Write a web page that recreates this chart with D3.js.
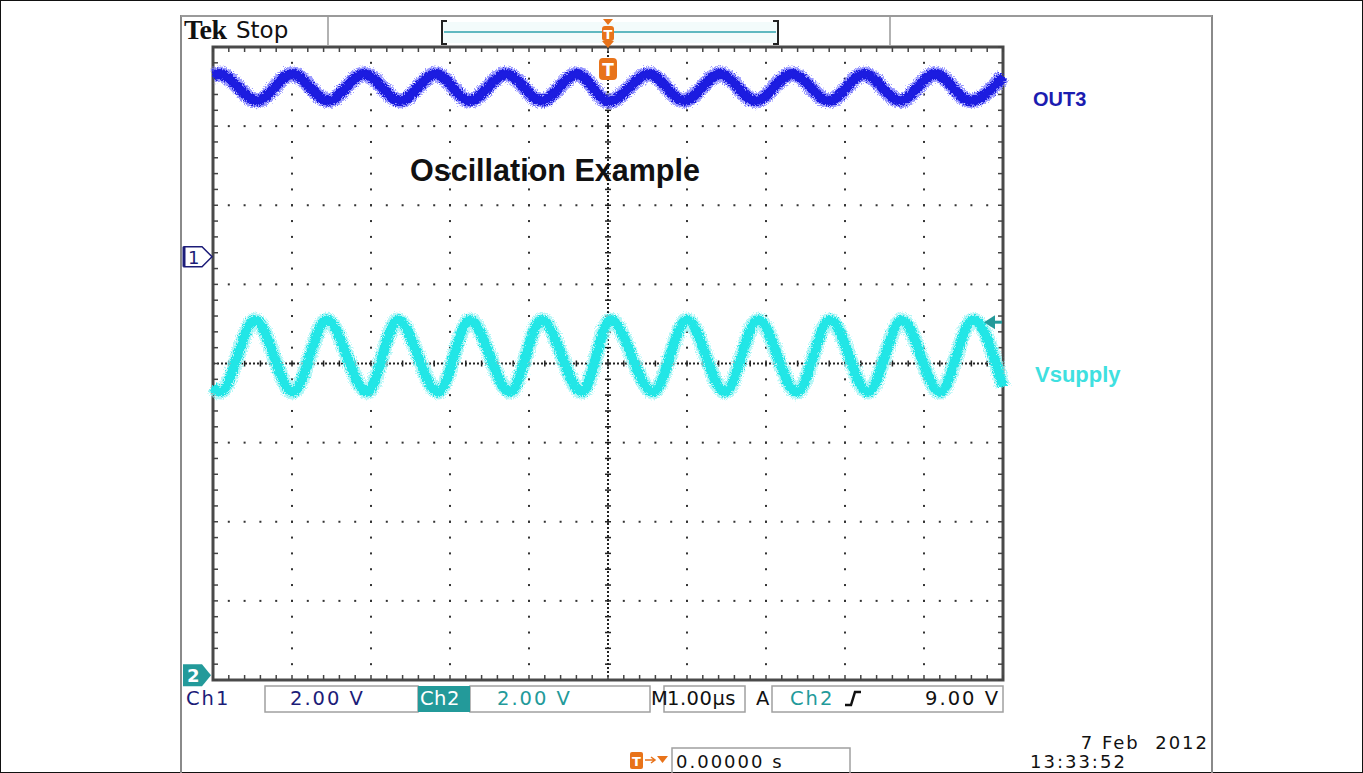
<!DOCTYPE html>
<html>
<head>
<meta charset="utf-8">
<script src="https://cdn.jsdelivr.net/npm/d3@7"></script>
<style>
  body { margin: 0; background: #fff; }
  svg { display: block; }
  .stat { font-family: "DejaVu Sans", sans-serif; font-size: 19.5px; letter-spacing: 2px; }
  .stamp { font-family: "DejaVu Sans", sans-serif; font-size: 18px; letter-spacing: 2px; }
</style>
</head>
<body>
<script>
// scope settings
var timePerDiv = 1.00;      // us
var ch1VoltsPerDiv = 2.00;
var ch2VoltsPerDiv = 2.00;
var ch1Position = 1.35;     // divisions above centre
var ch2Position = -3.94;
var triggerLevel = 9.00;    // V on Ch2

// OUT3 (Ch1) - extrema picked from the trace, time in us, volts
var out3Time  = [-5.00, -4.92, -4.44, -4.00, -3.54, -3.09, -2.63, -2.18, -1.75, -1.29, -0.84, -0.39,
                  0.01,  0.52,  0.96,  1.42,  1.87,  2.33,  2.80,  3.24,  3.70,  4.14,  4.59,  5.00];
var out3Volts = [ 4.58,  4.62,  3.94,  4.62,  3.94,  4.62,  3.94,  4.62,  3.94,  4.62,  3.94,  4.62,
                  3.92,  4.62,  3.94,  4.62,  3.94,  4.62,  3.94,  4.62,  3.94,  4.62,  3.94,  4.56];

// Vsupply (Ch2)
var vsupTime  = [-5.00, -4.91, -4.47, -3.99, -3.56, -3.05, -2.66, -2.15, -1.75, -1.24, -0.84, -0.33,
                  0.03,  0.57,  1.00,  1.48,  1.90,  2.39,  2.81,  3.29,  3.72,  4.20,  4.62,  5.00];
var vsupVolts = [ 7.30,  7.16,  8.98,  7.16,  8.98,  7.16,  8.98,  7.16,  8.98,  7.16,  8.98,  7.16,
                  8.98,  7.16,  8.98,  7.16,  8.98,  7.16,  8.98,  7.16,  8.98,  7.16,  8.98,  7.30];

var W = 1363, H = 773;
var svg = d3.select("body").append("svg").attr("width", W).attr("height", H);

// fuzz filter for the noisy traces
var defs = svg.append("defs");
var f = defs.append("filter").attr("id", "fuzz").attr("x", "-5%").attr("y", "-50%").attr("width", "110%").attr("height", "200%");
f.append("feTurbulence").attr("type", "fractalNoise").attr("baseFrequency", "0.9").attr("numOctaves", 2).attr("seed", 3).attr("result", "n");
f.append("feDisplacementMap").attr("in", "SourceGraphic").attr("in2", "n").attr("scale", 7).attr("xChannelSelector", "R").attr("yChannelSelector", "G");

// outer frame
svg.append("rect").attr("x", 0.5).attr("y", 0.5).attr("width", W - 1).attr("height", H - 1)
   .attr("fill", "#fff").attr("stroke", "#111");
svg.append("line").attr("x1", 181).attr("x2", 181).attr("y1", 15).attr("y2", H).attr("stroke", "#8a8a8a").attr("stroke-width", 2);
svg.append("line").attr("x1", 1212).attr("x2", 1212).attr("y1", 15).attr("y2", H).attr("stroke", "#8a8a8a").attr("stroke-width", 2);
svg.append("line").attr("x1", 181).attr("x2", 1212).attr("y1", 16).attr("y2", 16).attr("stroke", "#9a9a9a").attr("stroke-width", 2);

// scales
var x = d3.scaleLinear().domain([-5 * timePerDiv, 5 * timePerDiv]).range([213, 1003]);
var y = d3.scaleLinear().domain([-4, 4]).range([680, 47]);
var xDiv = d3.scaleLinear().domain([-5, 5]).range([213, 1003]);

var g = svg.append("g");

// graticule dots
var minorX = d3.range(-5, 5.001, 0.2), minorY = d3.range(-4, 4.001, 0.2);
var majorX = d3.range(-4, 4.5, 1).filter(function(d){ return d !== 0; });
var majorY = d3.range(-3, 3.5, 1).filter(function(d){ return d !== 0; });
majorX.forEach(function(mx){
  g.selectAll(null).data(minorY).enter().append("rect")
    .attr("x", xDiv(mx) - 1).attr("y", function(d){ return y(d) - 1; })
    .attr("width", 2).attr("height", 2).attr("fill", "#333");
});
majorY.forEach(function(my){
  g.selectAll(null).data(minorX).enter().append("rect")
    .attr("x", function(d){ return xDiv(d) - 1; }).attr("y", y(my) - 1)
    .attr("width", 2).attr("height", 2).attr("fill", "#333");
});

// centre cross lines with minor ticks
g.append("line").attr("x1", xDiv(0)).attr("x2", xDiv(0)).attr("y1", y(4)).attr("y2", y(-4))
  .attr("stroke", "#222").attr("stroke-width", 2).attr("stroke-dasharray", "2,2");
g.append("line").attr("x1", xDiv(-5)).attr("x2", xDiv(5)).attr("y1", y(0)).attr("y2", y(0))
  .attr("stroke", "#222").attr("stroke-width", 2).attr("stroke-dasharray", "2,2");
g.selectAll(null).data(minorY).enter().append("line")
  .attr("x1", xDiv(0) - 3).attr("x2", xDiv(0) + 3).attr("y1", function(d){ return y(d); }).attr("y2", function(d){ return y(d); })
  .attr("stroke", "#222").attr("stroke-width", 1.5);
g.selectAll(null).data(minorX).enter().append("line")
  .attr("y1", y(0) - 3).attr("y2", y(0) + 3).attr("x1", function(d){ return xDiv(d); }).attr("x2", function(d){ return xDiv(d); })
  .attr("stroke", "#222").attr("stroke-width", 1.5);

// border with ticks
g.append("rect").attr("x", 213).attr("y", 47).attr("width", 790).attr("height", 633)
  .attr("fill", "none").attr("stroke", "#4a4a4a").attr("stroke-width", 3);
[[y(4), 1], [y(-4), -1]].forEach(function(b){
  g.selectAll(null).data(minorX).enter().append("line")
    .attr("x1", function(d){ return xDiv(d); }).attr("x2", function(d){ return xDiv(d); })
    .attr("y1", b[0]).attr("y2", b[0] + b[1] * 5).attr("stroke", "#444").attr("stroke-width", 1.5);
});
[[213, 1], [1003, -1]].forEach(function(b){
  g.selectAll(null).data(minorY).enter().append("line")
    .attr("y1", function(d){ return y(d); }).attr("y2", function(d){ return y(d); })
    .attr("x1", b[0]).attr("x2", b[0] + b[1] * 5).attr("stroke", "#444").attr("stroke-width", 1.5);
});

// traces
function trace(times, volts, vdiv, pos, core, halo){
  var pts = times.map(function(t, i){ return [x(t), y(volts[i] / vdiv + pos)]; });
  var line = d3.line().curve(d3.curveMonotoneX);
  var tg = svg.append("g");
  tg.append("path").attr("d", line(pts)).attr("fill", "none").attr("stroke", halo)
    .attr("stroke-width", 15).attr("opacity", 0.75).attr("filter", "url(#fuzz)");
  tg.append("path").attr("d", line(pts)).attr("fill", "none").attr("stroke", core)
    .attr("stroke-width", 10).attr("filter", "url(#fuzz)");
  tg.append("path").attr("d", line(pts)).attr("fill", "none").attr("stroke", core)
    .attr("stroke-width", 6);
}
trace(out3Time, out3Volts, ch1VoltsPerDiv, ch1Position, "#1c1ce0", "#7a7aff");
trace(vsupTime, vsupVolts, ch2VoltsPerDiv, ch2Position, "#22e6e6", "#9af4f4");

// labels on the screen
svg.append("text").attr("x", 410).attr("y", 181).text("Oscillation Example")
  .attr("font-family", "Liberation Sans, Arial, sans-serif").attr("font-weight", "bold").attr("font-size", 30.5).attr("fill", "#111");
svg.append("text").attr("x", 1033).attr("y", 106).text("OUT3")
  .attr("font-family", "Liberation Sans, Arial, sans-serif").attr("font-weight", "bold").attr("font-size", 20).attr("fill", "#1c1cb0");
svg.append("text").attr("x", 1035).attr("y", 382).text("Vsupply")
  .attr("font-family", "Liberation Sans, Arial, sans-serif").attr("font-weight", "bold").attr("font-size", 22).attr("fill", "#3fe0e0");

// channel ground markers
var navy = "#1c1c78", teal = "#239a9a", orange = "#e8731a";
var m1 = y(ch1Position), m2 = y(ch2Position);
svg.append("path").attr("d", "M184," + (m1 - 10) + "H202L212," + m1 + "L202," + (m1 + 10) + "H184Z")
  .attr("fill", "#fff").attr("stroke", navy).attr("stroke-width", 1.5);
svg.append("line").attr("x1", 184).attr("x2", 184).attr("y1", m1 - 10).attr("y2", m1 + 10).attr("stroke", navy).attr("stroke-width", 3);
svg.append("text").attr("x", 188).attr("y", m1 + 7).text("1").attr("font-family", "DejaVu Sans").attr("font-size", 18).attr("fill", navy);
svg.append("path").attr("d", "M183," + (m2 - 11) + "H202L211," + m2 + "L202," + (m2 + 11) + "H183Z").attr("fill", teal);
svg.append("text").attr("x", 187).attr("y", m2 + 7).text("2").attr("font-family", "DejaVu Sans").attr("font-weight", "bold").attr("font-size", 18).attr("fill", "#fff");

// trigger level arrow (right edge)
var ty = y(triggerLevel / ch2VoltsPerDiv + ch2Position) + 3;
svg.append("path").attr("d", "M984," + ty + "L995," + (ty - 7) + "V" + (ty + 7) + "Z").attr("fill", teal);
svg.append("line").attr("x1", 994).attr("x2", 1002).attr("y1", ty).attr("y2", ty).attr("stroke", teal).attr("stroke-width", 3);

// header
svg.append("text").attr("x", 184).attr("y", 39).text("Tek").attr("font-family", "Liberation Serif, serif")
  .attr("font-weight", "bold").attr("font-size", 28).attr("letter-spacing", -0.5).attr("fill", "#111");
svg.append("text").attr("x", 236).attr("y", 38).text("Stop").attr("font-family", "DejaVu Sans")
  .attr("font-size", 23).attr("fill", "#111");
svg.append("line").attr("x1", 328).attr("x2", 328).attr("y1", 16).attr("y2", 45).attr("stroke", "#999").attr("stroke-width", 1.5);
svg.append("line").attr("x1", 890).attr("x2", 890).attr("y1", 16).attr("y2", 45).attr("stroke", "#999").attr("stroke-width", 1.5);
svg.append("rect").attr("x", 443).attr("y", 22).attr("width", 335).attr("height", 21).attr("fill", "#f3fbfb");
svg.append("path").attr("d", "M447,21H442V44H447M773,21H778V44H773").attr("fill", "none").attr("stroke", "#222").attr("stroke-width", 2);
svg.append("line").attr("x1", 444).attr("x2", 776).attr("y1", 32).attr("y2", 32).attr("stroke", "#5fb8c0").attr("stroke-width", 2);

// trigger position marker
var tx = x(0);
svg.append("path").attr("d", "M" + (tx - 5) + ",19H" + (tx + 5) + "L" + tx + ",25Z").attr("fill", orange);
svg.append("rect").attr("x", tx - 6).attr("y", 26).attr("width", 12).attr("height", 15).attr("rx", 3).attr("fill", orange);
svg.append("text").attr("x", tx).attr("y", 39).attr("text-anchor", "middle").text("T")
  .attr("font-family", "DejaVu Sans").attr("font-weight", "bold").attr("font-size", 13).attr("fill", "#fff");
svg.append("path").attr("d", "M" + (tx - 6) + ",41H" + (tx + 6) + "L" + tx + ",48Z").attr("fill", orange);
svg.append("rect").attr("x", tx - 9).attr("y", 58).attr("width", 18).attr("height", 22).attr("rx", 4).attr("fill", orange);
svg.append("text").attr("x", tx).attr("y", 76).attr("text-anchor", "middle").text("T")
  .attr("font-family", "DejaVu Sans").attr("font-weight", "bold").attr("font-size", 17).attr("fill", "#fff");

// status bar
var sb = svg.append("g").attr("class", "stat");
function box(x0, x1, y0, y1){
  sb.append("rect").attr("x", x0).attr("y", y0).attr("width", x1 - x0).attr("height", y1 - y0)
    .attr("fill", "none").attr("stroke", "#a0a0a0").attr("stroke-width", 1.5);
}
box(265, 418, 686, 712);
box(470, 650, 686, 712);
box(664, 745, 686, 712);
box(772, 1003, 686, 712);
sb.append("rect").attr("x", 418).attr("y", 686).attr("width", 52).attr("height", 26).attr("fill", teal);
function stxt(xp, t, c, anchor){
  return sb.append("text").attr("x", xp).attr("y", 705).text(t).attr("fill", c).attr("text-anchor", anchor || "start");
}
stxt(186, "Ch1", navy);
stxt(290, ch1VoltsPerDiv.toFixed(2) + " V", navy);
stxt(420, "Ch2", "#fff").attr("letter-spacing", 0.5);
stxt(497, ch2VoltsPerDiv.toFixed(2) + " V", teal);
stxt(651, "M", "#111").attr("letter-spacing", 0);
stxt(667, timePerDiv.toFixed(2) + "\u00b5s", "#111").attr("letter-spacing", 0.5);
stxt(756, "A", "#111");
stxt(790, "Ch2", teal);
stxt(1000, triggerLevel.toFixed(2) + " V", "#111", "end");
sb.append("path").attr("d", "M845,705H851L855,692H861").attr("fill", "none").attr("stroke", "#111").attr("stroke-width", 2.5);

// bottom row
svg.append("rect").attr("x", 630).attr("y", 752).attr("width", 13).attr("height", 17).attr("rx", 2).attr("fill", orange);
svg.append("text").attr("x", 636.5).attr("y", 766).attr("text-anchor", "middle").text("T")
  .attr("font-family", "DejaVu Sans").attr("font-weight", "bold").attr("font-size", 13).attr("fill", "#fff");
svg.append("path").attr("d", "M645,760H654M651,757L655,760L651,763").attr("fill", "none").attr("stroke", orange).attr("stroke-width", 1.5);
svg.append("path").attr("d", "M657,756H668L662.5,763Z").attr("fill", orange);
svg.append("rect").attr("x", 672).attr("y", 748).attr("width", 178).attr("height", 30)
  .attr("fill", "none").attr("stroke", "#a0a0a0").attr("stroke-width", 1.5);
svg.append("text").attr("class", "stamp").attr("x", 676).attr("y", 768).text("0.00000 s").attr("fill", "#111");
svg.append("text").attr("class", "stamp").attr("x", 1209).attr("y", 749).attr("text-anchor", "end")
  .attr("xml:space", "preserve").text("7 Feb  2012").attr("fill", "#111");
svg.append("text").attr("class", "stamp").attr("x", 1030).attr("y", 768).text("13:33:52").attr("fill", "#111");
</script>
</body>
</html>
